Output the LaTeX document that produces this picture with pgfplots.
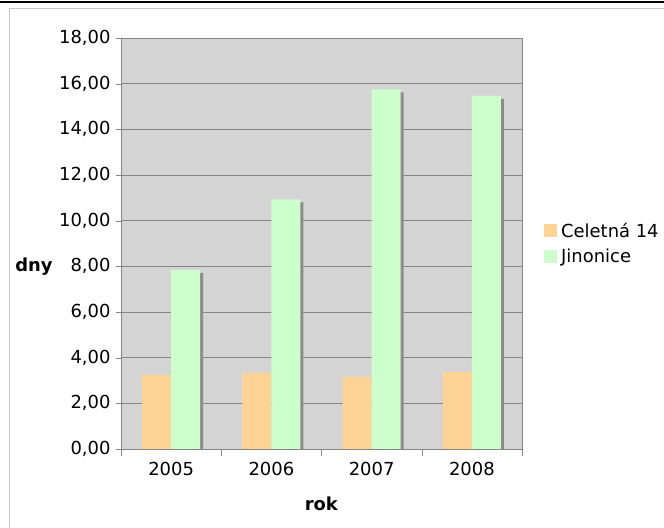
\documentclass[border=0pt]{standalone}
\usepackage{pgfplots}
\pgfplotsset{compat=1.18}
\usepackage{fontspec}
\setmainfont{DejaVu Sans}
\definecolor{plotbg}{HTML}{D4D4D4}
\definecolor{cel}{HTML}{FFD393}
\definecolor{jin}{HTML}{CCFFCC}
\definecolor{shad}{HTML}{8C8C8C}
\definecolor{gridc}{HTML}{858585}
\begin{document}
\begin{tikzpicture}
\useasboundingbox (0,0) rectangle (664bp,528bp);
\fill[white] (0,0) rectangle (664bp,528bp);
\begin{axis}[
  scale only axis,
  width=401bp, height=411bp,
  at={(121bp,79bp)}, anchor=south west,
  xmin=-0.5, xmax=3.5, ymin=0, ymax=18,
  axis background/.style={fill=plotbg},
  axis line style={gridc},
  ybar, bar width=29bp,
  xtick={0,1,2,3},
  xticklabels={2005,2006,2007,2008},
  minor xtick={-0.5,0.5,1.5,2.5,3.5},
  xtick pos=bottom, ytick pos=left,
  major x tick style={draw=none},
  minor x tick style={gridc},
  minor tick length=7bp,
  ytick={0,2,...,18},
  major y tick style={gridc},
  major tick length=5bp,
  tick align=outside,
  ymajorgrids,
  major grid style={gridc, line width=0.8bp},
  tick label style={font=\fontsize{18}{21}\selectfont},
  /pgf/number format/assume math mode=true,
  yticklabel style={/pgf/number format/fixed, /pgf/number format/fixed zerofill,
    /pgf/number format/precision=2, /pgf/number format/use comma,
    /pgf/number format/1000 sep={}, xshift=-2bp},
  xticklabel style={yshift=-5bp},
  xlabel={\textbf{rok}},
  xlabel style={font=\fontsize{18}{21}\selectfont, at={(axis description cs:0.5,-0.134)}, anchor=center},
  ylabel={\textbf{dny}},
  ylabel style={font=\fontsize{18}{21}\selectfont, rotate=-90, at={(axis description cs:-0.217,0.443)}, anchor=center},
  legend style={draw=none, fill=none, at={(rel axis cs:1,0.5)}, anchor=west, xshift=19bp,
    font=\fontsize{18}{21}\selectfont, row sep=6bp},
  legend cell align=left,
  legend image code/.code={\fill[#1] (0bp,-6.5bp) rectangle (13bp,6.5bp); \path (15bp,0bp);},
]
% shadow of Jinonice bars
\addplot[fill=shad, draw=none, bar shift=17.5bp, yshift=-3bp, forget plot]
  coordinates {(0,7.84) (1,10.93) (2,15.75) (3,15.46)};
\addplot[fill=cel, draw=none, bar shift=-14.5bp]
  coordinates {(0,3.25) (1,3.33) (2,3.16) (3,3.37)};
\addplot[fill=jin, draw=none, bar shift=14.5bp]
  coordinates {(0,7.84) (1,10.93) (2,15.75) (3,15.46)};
\legend{Celetná 14, Jinonice}
\end{axis}
\draw[gray!45, line width=1bp] (9bp,0) -- (9bp,519bp) -- (664bp,519bp);
\draw[black, line width=2bp] (0,525.5bp) -- (664bp,525.5bp);
\end{tikzpicture}
\end{document}
